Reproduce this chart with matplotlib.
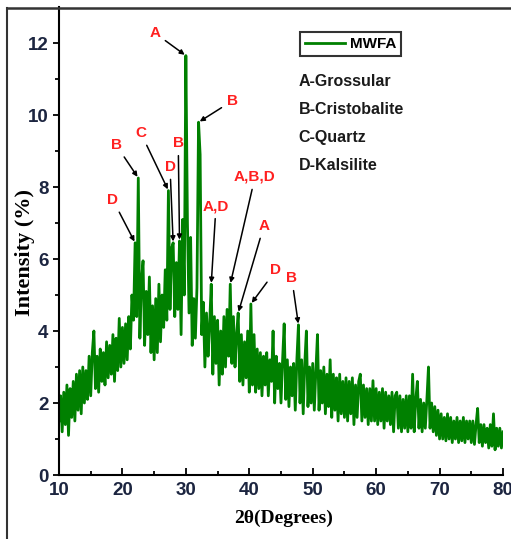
import matplotlib.pyplot as plt
import numpy as np
from matplotlib.lines import Line2D

# 2-theta scan, 0.25 degree step from 10 to 80
two_theta_start = 10.0
two_theta_step = 0.25
intensity = [
    1.5, 2.2, 1.2, 2.3, 1.4, 2.5, 1.1, 2.4, 1.6, 2.6, 1.5, 2.8, 1.8, 2.9, 1.7, 3.0, 2.0, 2.9, 2.1, 3.3,
    2.2, 3.4, 4.0, 2.4, 3.3, 2.3, 3.5, 2.6, 3.4, 2.5, 3.7, 2.7, 3.6, 2.8, 3.9, 2.6, 3.8, 2.9, 4.35, 3.0,
    4.1, 3.1, 4.2, 3.2, 4.4, 3.5, 5.0, 4.3, 6.45, 4.4, 8.25, 3.8, 5.4, 5.95, 3.6, 5.1, 3.9, 5.5, 3.4, 4.7,
    3.2, 4.9, 3.4, 5.3, 3.7, 5.0, 4.1, 5.7, 4.3, 7.9, 4.6, 6.3, 6.45, 4.4, 5.9, 4.6, 6.5, 3.9, 7.1, 5.0,
    11.65, 7.0, 4.5, 6.6, 3.6, 4.9, 3.8, 5.2, 9.8, 8.9, 3.9, 4.8, 3.0, 4.5, 3.3, 4.2, 5.3, 2.8, 4.4, 3.1,
    4.3, 2.5, 4.0, 2.8, 4.4, 3.0, 4.6, 3.3, 5.3, 3.1, 4.4, 3.0, 3.9, 4.5, 2.6, 3.9, 2.5, 3.7, 2.7, 4.0,
    2.3, 4.75, 2.5, 3.9, 2.3, 3.5, 2.4, 3.4, 2.2, 3.3, 2.5, 3.4, 2.2, 3.2, 2.6, 4.0, 2.0, 3.3, 2.4, 3.1,
    2.0, 3.2, 4.2, 2.1, 3.2, 1.9, 3.0, 2.2, 3.1, 1.8, 3.2, 4.17, 2.0, 3.2, 1.7, 3.1, 4.0, 1.9, 3.0, 2.0,
    3.1, 1.8, 2.9, 3.9, 1.8, 2.9, 2.0, 3.0, 1.7, 2.8, 1.9, 3.2, 1.6, 2.8, 1.8, 2.7, 1.5, 2.8, 1.7, 2.6,
    1.6, 2.7, 1.5, 2.6, 1.7, 2.7, 1.4, 2.5, 1.6, 2.6, 2.8, 1.5, 2.5, 1.6, 2.4, 1.4, 2.4, 1.5, 2.62, 1.5,
    2.4, 1.4, 2.3, 1.5, 2.4, 1.3, 2.3, 1.5, 2.2, 1.4, 2.3, 1.2, 2.2, 2.3, 1.3, 2.2, 1.2, 2.1, 1.3, 2.2,
    1.2, 2.2, 1.3, 2.8, 1.2, 2.1, 2.6, 1.3, 2.1, 1.2, 2.0, 1.3, 2.1, 3.0, 1.3, 2.0, 1.2, 1.9, 1.1, 1.8,
    1.0, 1.7, 1.0, 1.6, 0.95, 1.7, 1.0, 1.6, 0.9, 1.5, 1.0, 1.6, 0.9, 1.5, 0.95, 1.6, 0.9, 1.5, 1.0, 1.5,
    0.9, 1.5, 0.85, 1.4, 1.85, 0.9, 1.4, 0.8, 1.4, 0.9, 1.3, 0.75, 1.4, 0.8, 1.7, 0.7, 1.3, 0.8, 1.3, 0.75,
    1.2,
]
two_theta = two_theta_start + two_theta_step * np.arange(len(intensity))

# labelled reflections: phase letters and peak position
peak_labels = ["A", "B", "B", "C", "D", "D", "B", "A,D", "A,B,D", "A", "D", "B"]
peak_pos = [30.0, 32.0, 22.5, 27.25, 22.0, 28.0, 29.0, 34.0, 37.0, 38.25, 40.25, 47.75]
label_xy = [(25.1, 12.28), (37.3, 10.39), (19.0, 9.17), (22.9, 9.5), (18.5, 7.64), (27.5, 8.56),
            (28.8, 9.22), (34.75, 7.47), (40.9, 8.28), (42.3, 6.92), (44.2, 5.69), (46.7, 5.47)]

phases = ["A-Grossular", "B-Cristobalite", "C-Quartz", "D-Kalsilite"]

sans = ["Liberation Sans", "DejaVu Sans"]
serif = ["Liberation Serif", "DejaVu Serif"]
tick_col = "#1c2540"

fig = plt.figure(figsize=(5.11, 5.39), dpi=100)
ax = fig.add_axes([59 / 511, 64 / 539, 444 / 511, 468 / 539])

ax.plot(two_theta, intensity, color="#008000", lw=2.0, label="MWFA")

ax.set_xlim(10, 80)
ax.set_ylim(0, 13)
ax.set_xticks(np.arange(10, 81, 10))
ax.set_xticks(np.arange(15, 80, 10), minor=True)
ax.set_yticks(np.arange(0, 13, 2))
ax.set_yticks(np.arange(1, 13, 2), minor=True)
ax.tick_params(axis="x", which="both", direction="in", width=1.3, colors="black", labelcolor=tick_col, pad=5)
ax.tick_params(axis="x", which="major", length=5)
ax.tick_params(axis="x", which="minor", length=3)
ax.tick_params(axis="y", which="both", direction="out", width=1.3, colors="black", labelcolor=tick_col)
ax.tick_params(axis="y", which="major", length=4)
ax.tick_params(axis="y", which="minor", length=3)
for lab in ax.get_xticklabels() + ax.get_yticklabels():
    lab.set_family(sans)
    lab.set_fontsize(13.5)
    lab.set_fontweight("bold")

for side in ["top", "right"]:
    ax.spines[side].set_visible(False)
for side in ["left", "bottom"]:
    ax.spines[side].set_linewidth(1.5)

ax.set_xlabel("2θ(Degrees)", family=serif, fontsize=14, fontweight="bold")
ax.xaxis.set_label_coords(0.505, -0.075)
ax.set_ylabel("Intensity (%)", family=serif, fontsize=16, fontweight="bold")
ax.yaxis.set_label_coords(-0.055, 0.476)

for lab, pos, (tx, ty) in zip(peak_labels, peak_pos, label_xy):
    i = int(round((pos - two_theta_start) / two_theta_step))
    ax.annotate(lab, xy=(two_theta[i], intensity[i]), xytext=(tx, ty),
                ha="center", va="center", color="#ff2020", fontsize=11,
                family=sans, fontweight="bold",
                arrowprops=dict(arrowstyle="-|>", color="black", lw=1.1,
                                mutation_scale=7, shrinkA=2, shrinkB=1))

leg = ax.legend(loc="upper left", bbox_to_anchor=(0.543, 0.947), fancybox=False,
                edgecolor="black", handlelength=2.6, handletextpad=0.3,
                borderpad=0.35, borderaxespad=0,
                prop={"family": sans, "size": 11, "weight": "bold"})
leg.get_frame().set_linewidth(1.5)

for k, name in enumerate(phases):
    ax.text(0.54, 0.84 - 0.0595 * k, name, transform=ax.transAxes, va="center",
            ha="left", family=sans, fontsize=11.5, fontweight="bold", color="#1a1a1a")

# outer frame around the figure
fig.add_artist(Line2D([7 / 511, 7 / 511], [0, 1 - 8 / 539], color="#333333", lw=1.5))
fig.add_artist(Line2D([7 / 511, 1], [1 - 8 / 539, 1 - 8 / 539], color="#333333", lw=1.8))

plt.savefig("out.png")
